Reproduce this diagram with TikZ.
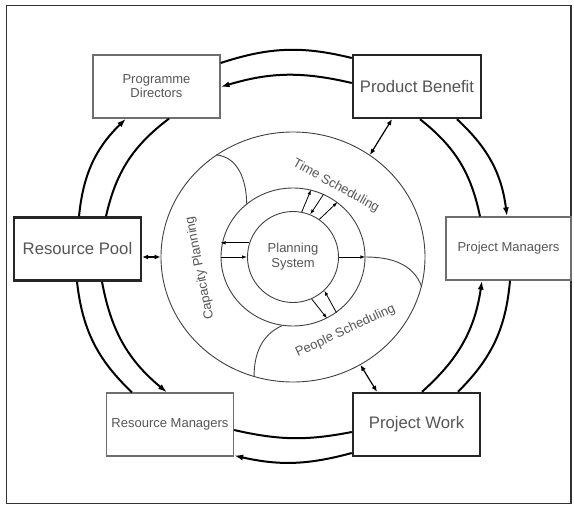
\documentclass[tikz,border=0pt]{standalone}
\usepackage{fontspec}
\setmainfont{Liberation Sans}
\usetikzlibrary{arrows.meta,shapes.geometric}
\definecolor{txtgray}{RGB}{85,85,85}
\definecolor{linegray}{RGB}{110,110,110}
\begin{document}
\begin{tikzpicture}[x=1pt,y=1pt]
\tikzstyle{thinbx} = [draw=linegray,line width=1.2pt,fill=white,minimum width=127pt,minimum height=63pt,inner sep=0pt,align=center,text=txtgray,font=\fontsize{13}{14}\selectfont] %thin box
\tikzstyle{thickbx} = [thinbx,draw=black!85,line width=2.4pt,font=\fontsize{16.7}{18}\selectfont] %thick box
\tikzstyle{fl} = [line width=2pt,-{Latex[length=9pt,width=6pt]}] %flow arrow
\tikzstyle{pl} = [line width=2pt] %plain flow
\tikzstyle{da} = [line width=1.2pt,{Latex[length=6pt,width=5pt]}-{Latex[length=6pt,width=5pt]}] %double arrow
\tikzstyle{sa} = [line width=0.8pt,-{Latex[length=5pt,width=3.5pt]}] %small arrow
\tikzstyle{rg} = [draw=black!75,line width=0.9pt] %ring line
\tikzstyle{lb} = [text=txtgray,font=\fontsize{13}{14}\selectfont,inner sep=0pt] %label
\useasboundingbox (0,0) rectangle (574,-506);
\draw[line width=1.5pt,black!80] (6.5,-5.5) rectangle (571,-503.5);
% rings
\coordinate (c) at (293,-257);
\node[rg,ellipse,minimum width=264pt,minimum height=250pt,inner sep=0pt](outer)at(c){};
\node[rg,ellipse,minimum width=144pt,minimum height=138pt,inner sep=0pt](mid)at(c){};
\node[rg,circle,minimum size=91pt,inner sep=0pt,align=center,text=txtgray,font=\fontsize{13}{15}\selectfont](ps)at(c){Planning\\System};
\draw[rg](outer.127) to[out=-5,in=90] (mid.131);
\draw[rg](mid.0) to[out=0,in=110] (outer.-13);
\draw[rg](mid.-99) to[out=204,in=90] (outer.-108);
\node[lb,rotate=-29](ts)at(336,-186){Time Scheduling};
\node[lb,rotate=101](cp)at(200,-268){Capacity Planning};
\node[lb,rotate=25](psc)at(345.5,-331){People Scheduling};
% small arrows
\draw[sa](ps.162)--(ps.162 -| mid.west);
\draw[sa](mid.180)--(ps.180);
\draw[sa](ps.0)--(mid.0);
\draw[sa](ps.79)--(mid.75);
\draw[sa](mid.64)--(ps.68);
\draw[sa](ps.55)--(mid.51);
\draw[sa](ps.-66)--(mid.-61);
\draw[sa](mid.-52)--(ps.-47);
% boxes
\node[thinbx](pd)at(156.5,-86.5){Programme\\Directors};
\node[thickbx,minimum width=128pt](pb)at(417,-86.5){Product Benefit};
\node[thickbx](rp)at(77.5,-249){Resource Pool};
\node[thinbx,minimum width=125pt](pm)at(508.5,-248.5){Project Managers};
\node[thinbx](rm)at(170,-424.5){Resource Managers};
\node[thickbx](pw)at(416.5,-424.5){Project Work};
% outer flows
\draw[pl]([yshift=23.5pt]pd.east) to[bend left=16] ([yshift=28.5pt]pb.west);
\draw[fl]([yshift=3.5pt]pb.west) to[bend right=15] ([yshift=-0.5pt]pd.east);
\draw[fl]([xshift=1.5pt]rp.north) to[bend left=20] ([xshift=-30.5pt]pd.south);
\draw[pl]([xshift=28.5pt]rp.north) to[bend left=20] ([xshift=12.5pt]pd.south);
\draw[pl]([xshift=3pt]pb.south) to[bend left=20] ([xshift=-28.5pt]pm.north);
\draw[fl]([xshift=40pt]pb.south) to[bend left=20] ([xshift=-1.5pt]pm.north);
\draw[fl]([xshift=5.5pt]pw.north) to[bend right=20] ([xshift=-26.5pt]pm.south);
\draw[pl]([xshift=41.5pt]pw.north) to[bend right=20] ([xshift=1.5pt]pm.south);
\draw[pl]([yshift=-5.5pt]rm.east) to[bend right=12] ([yshift=-7.5pt]pw.west);
\draw[fl]([yshift=-28.5pt]pw.west) to[bend left=14] ([yshift=-31pt]rm.east);
\draw[pl]([xshift=-0.5pt]rp.south) to[bend right=20] ([xshift=-38pt]rm.north);
\draw[fl]([xshift=24.5pt]rp.south) to[bend right=20] ([xshift=-3pt]rm.north);
% links to rings
\draw[da]([yshift=-8pt]rp.east)--(outer.180);
\draw[da]([xshift=-25pt]pb.south)--(outer.53);
\draw[da]([xshift=-39.5pt]pw.north)--(outer.-58);
\end{tikzpicture}
\end{document}
